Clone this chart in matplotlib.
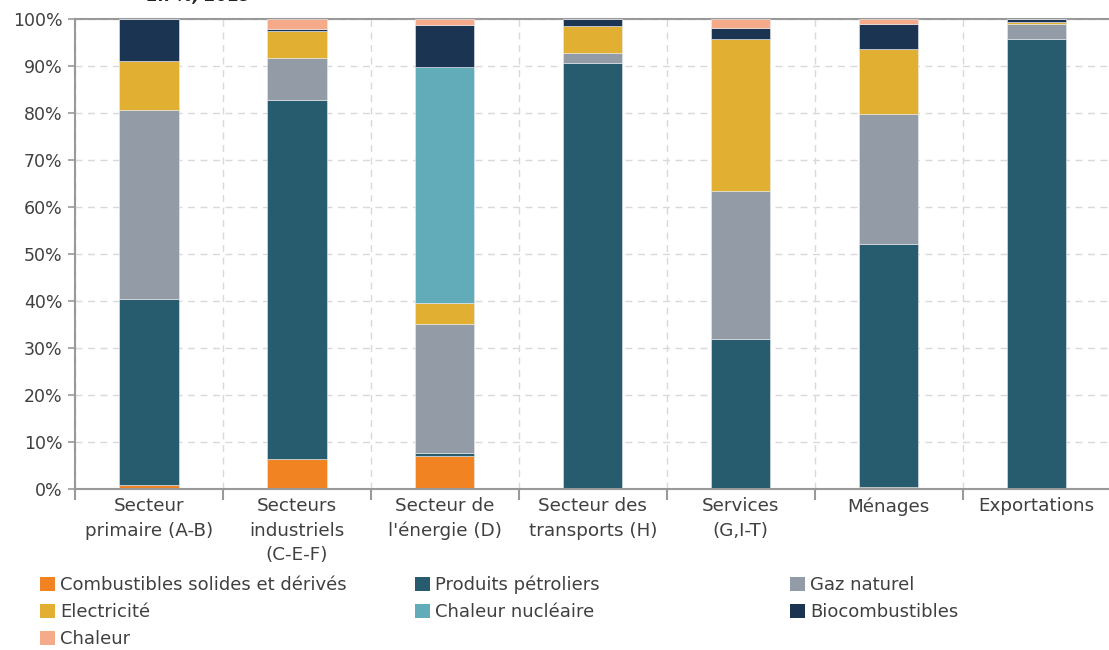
import numpy as np
import matplotlib
matplotlib.use("Agg")
import matplotlib.pyplot as plt
from matplotlib.patches import Patch

categories = ["Secteur\nprimaire (A-B)", "Secteurs\nindustriels\n(C-E-F)", "Secteur de\nl'énergie (D)",
              "Secteur des\ntransports (H)", "Services\n(G,I-T)", "Ménages", "Exportations"]

series_names = ["Combustibles solides et dérivés", "Produits pétroliers", "Gaz naturel",
                "Electricité", "Chaleur nucléaire", "Biocombustibles", "Chaleur"]

solides = [0.9, 6.4, 7.0, 0.0, 0.0, 0.5, 0.0]
petrole = [39.6, 76.4, 0.7, 90.6, 31.9, 51.6, 95.8]
gaz = [40.2, 8.9, 27.4, 2.2, 31.5, 27.7, 3.1]
electricite = [10.3, 5.7, 4.5, 5.7, 32.3, 13.8, 0.5]
nucleaire = [0.0, 0.0, 50.2, 0.0, 0.0, 0.0, 0.0]
bio = [8.9, 0.5, 8.9, 1.5, 2.4, 5.4, 0.5]
chaleur = [0.1, 2.1, 1.3, 0.0, 1.9, 1.0, 0.1]

colors = ["#F28322", "#275B6E", "#939CA6", "#E1B033", "#62ACBA", "#1B3451", "#F5AA8A"]
series = [solides, petrole, gaz, electricite, nucleaire, bio, chaleur]

txt = "#404040"
plt.rcParams['font.family'] = ['DejaVu Sans']

fig = plt.figure(figsize=(11.09, 6.5), dpi=100)
ax = fig.add_axes([0.0676, 0.2477, 0.934, 0.7231])

x = np.arange(len(categories))
bottom = np.zeros(len(categories))
for vals, col in zip(series, colors):
    ax.bar(x, vals, bottom=bottom, width=0.4, color=col, edgecolor="#e8ecef", linewidth=0.4, zorder=3)
    bottom += np.array(vals)

ax.set_xlim(-0.5, len(categories) - 0.5)
ax.set_ylim(0, 100)
ax.set_yticks(np.arange(0, 101, 10))
ax.set_yticklabels([f"{v}%" for v in range(0, 101, 10)], fontsize=12.5, color=txt)

# category labels centred, tick marks at boundaries
ax.set_xticks(x)
ax.set_xticklabels(categories, fontsize=13.2, color=txt, linespacing=1.45)
ax.tick_params(axis="x", which="major", length=0, pad=6)
ax.set_xticks(np.arange(-0.5, len(categories), 1), minor=True)
ax.tick_params(axis="x", which="minor", length=8, width=1.5, color="#999999")
ax.tick_params(axis="y", length=5, width=1.2, color="#999999", pad=4)

ax.grid(True, axis="y", linestyle=(0, (5, 4)), color="#d9d9d9", linewidth=1, zorder=0)
ax.grid(True, axis="x", which="minor", linestyle=(0, (5, 4)), color="#d9d9d9", linewidth=1, zorder=0)

for s in ["left", "bottom", "top"]:
    ax.spines[s].set_color("#999999")
    ax.spines[s].set_linewidth(1.5)
ax.spines["right"].set_visible(False)
ax.spines["bottom"].set_zorder(4)

# title sits mostly above the image, as in the original
fig.text(0.133, 0.992, "En %, 2019", fontsize=12, fontweight="bold", fontstyle="italic", color="#222222", va="bottom")

# legend in three separate columns, filled row by row like the original
handles = [Patch(facecolor=c, edgecolor="none") for c in colors]
cols = [[0, 3, 6], [1, 4], [2, 5]]
xs = [0.0365, 0.3745, 0.7125]
for idx, xpos in zip(cols, xs):
    leg = fig.legend([handles[i] for i in idx], [series_names[i] for i in idx], loc="upper left",
                     bbox_to_anchor=(xpos, 0.114), frameon=False, fontsize=13,
                     handlelength=0.8, handleheight=0.8, handletextpad=0.3, labelspacing=0.5,
                     borderaxespad=0, borderpad=0)
    for t in leg.get_texts():
        t.set_color(txt)

fig.savefig("out.png", dpi=100)
